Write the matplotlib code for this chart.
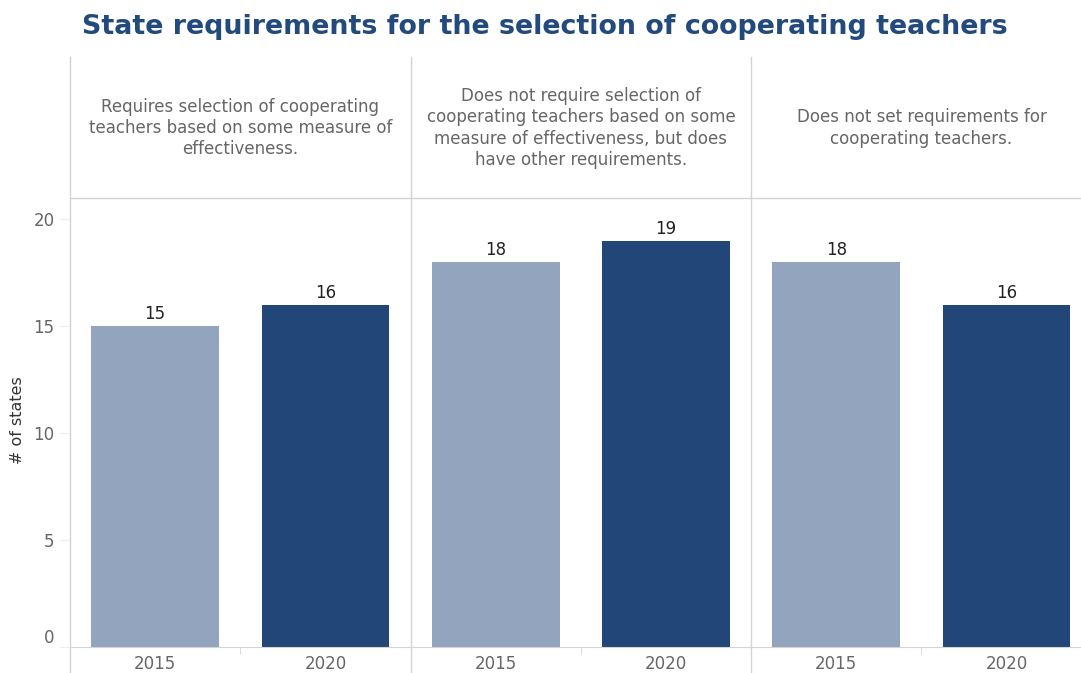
import numpy as np
import matplotlib.pyplot as plt
from matplotlib.lines import Line2D

# Data
panels = ['Requires selection of cooperating\nteachers based on some measure of\neffectiveness.',
          'Does not require selection of\ncooperating teachers based on some\nmeasure of effectiveness, but does\nhave other requirements.',
          'Does not set requirements for\ncooperating teachers.']
years = ['2015', '2020']
values_2015 = [15, 18, 18]
values_2020 = [16, 19, 16]

light = '#93a4be'
dark = '#224678'
grey_txt = '#666666'
line_c = '#d4d4d4'

W, H = 1081, 673
fig = plt.figure(figsize=(W / 100, H / 100), dpi=100)

def fx(px):
    return px / W

def fy(py):
    return 1 - py / H

ax = fig.add_axes([fx(70), fy(647), fx(1081) - fx(70), fy(198) - fy(647)])

xs, hs, cs, labels = [], [], [], []
for i in range(len(panels)):
    xs += [2 * i, 2 * i + 1]
    hs += [values_2015[i], values_2020[i]]
    cs += [light, dark]
    labels += years

bars = ax.bar(xs, hs, width=0.75, color=cs)
for b, v in zip(bars, hs):
    ax.text(b.get_x() + b.get_width() / 2, v + 0.15, str(v), ha='center', va='bottom',
            fontsize=12, color='#222222')

ax.set_xlim(-0.5, 5.437)
ax.set_ylim(0, 21)
ax.set_xticks(xs)
ax.set_xticklabels(labels)
ax.set_xticks([0.5, 2.5, 4.5], minor=True)
ax.set_yticks([0, 5, 10, 15, 20])
ax.tick_params(axis='x', which='major', length=0, labelsize=12, labelcolor=grey_txt, pad=6)
ax.tick_params(axis='x', which='minor', length=5, color=line_c)
ax.tick_params(axis='y', length=8, color='#eeeeee', labelsize=12, labelcolor=grey_txt, pad=3)
for t in ax.get_yticklabels():
    if t.get_text() == '0':
        t.set_va('bottom')
for s in ['top', 'right', 'left']:
    ax.spines[s].set_visible(False)
ax.spines['bottom'].set_color(line_c)
fig.text(fx(18), fy(420), '# of states', rotation=90, ha='center', va='center',
         fontsize=11.5, color='#333333')

# separators spanning the header and the plot
for px in [70, 410.6, 751]:
    fig.add_artist(Line2D([fx(px), fx(px)], [fy(57), 0], color=line_c, lw=1))
fig.add_artist(Line2D([fx(70), 1], [fy(198), fy(198)], color=line_c, lw=1))

# header texts
for i, t in enumerate(panels):
    cx = 70 + 170.3 * (2 * i + 1)
    fig.text(fx(cx), fy(128), t, ha='center', va='center', fontsize=12,
             color=grey_txt, linespacing=1.25)

fig.text(fx(545), fy(27), 'State requirements for the selection of cooperating teachers',
         ha='center', va='center', fontsize=19.4, fontweight='bold', color='#234a7d')

fig.savefig('out.png', dpi=100)
